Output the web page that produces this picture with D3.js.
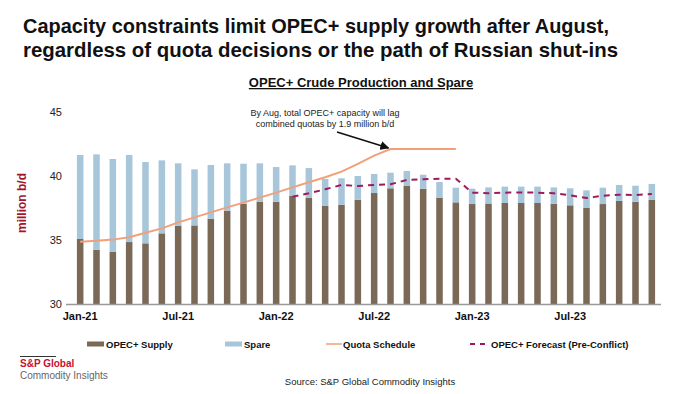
<!DOCTYPE html>
<html>
<head>
<meta charset="utf-8">
<script src="https://cdn.jsdelivr.net/npm/d3@7"></script>
<style>
  body { margin: 0; background: #fff; }
  svg { font-family: "Liberation Sans", Arial, sans-serif; }
</style>
</head>
<body>
<div id="chart"></div>
<script>
// monthly categories, Jan-21 .. Dec-23
let months = ["Jan-21","Feb-21","Mar-21","Apr-21","May-21","Jun-21","Jul-21","Aug-21","Sep-21","Oct-21","Nov-21","Dec-21",
              "Jan-22","Feb-22","Mar-22","Apr-22","May-22","Jun-22","Jul-22","Aug-22","Sep-22","Oct-22","Nov-22","Dec-22",
              "Jan-23","Feb-23","Mar-23","Apr-23","May-23","Jun-23","Jul-23","Aug-23","Sep-23","Oct-23","Nov-23","Dec-23"];

let supply = [35.08,34.24,34.09,34.84,34.74,35.52,36.12,36.14,36.67,37.29,37.84,37.97,
              37.98,38.44,38.28,37.66,37.76,38.15,38.67,39.04,39.22,39.01,38.31,37.94,
              37.81,37.85,37.89,37.89,37.89,37.84,37.71,37.53,37.81,38.05,37.99,38.13];

let spare = [6.56,7.45,7.24,6.80,6.35,5.70,4.87,4.38,4.19,3.70,3.12,3.02,
             2.72,2.39,2.34,2.11,2.06,1.85,1.49,1.22,1.17,1.09,1.22,1.15,
             1.20,1.26,1.28,1.28,1.28,1.27,1.33,1.35,1.28,1.25,1.25,1.25];

// quota schedule, Jan-21 .. Dec-22
let quotaMonths = months.slice(0, 24);
let quota = [34.87,34.95,35.03,35.21,35.57,35.91,36.38,36.77,37.16,37.55,37.92,38.31,
             38.70,39.11,39.51,39.90,40.34,40.94,41.59,42.11,42.11,42.11,42.11,42.11];

// pre-conflict forecast, Feb-22 .. Dec-23
let forecastMonths = months.slice(13);
let forecast = [38.39,38.65,38.96,39.30,39.22,39.30,39.35,39.69,39.74,39.79,39.79,
                38.70,38.66,38.70,38.72,38.70,38.65,38.49,38.28,38.46,38.54,38.52,38.59];

let tickMonths = ["Jan-21","Jul-21","Jan-22","Jul-22","Jan-23","Jul-23"];
let yTicks = [30, 35, 40, 45];

let colors = { supply: "#7b6957", spare: "#a7c6da", quota: "#f2a07a", forecast: "#9e1a5c" };

let svg = d3.select("#chart").append("svg")
    .attr("width", 700).attr("height", 394);

// titles
svg.append("text").attr("x", 23).attr("y", 33)
    .attr("font-size", 21).attr("font-weight", "bold").attr("fill", "#111")
    .attr("textLength", 586).attr("lengthAdjust", "spacingAndGlyphs")
    .text("Capacity constraints limit OPEC+ supply growth after August,");
svg.append("text").attr("x", 23).attr("y", 57)
    .attr("font-size", 21).attr("font-weight", "bold").attr("fill", "#111")
    .attr("textLength", 595).attr("lengthAdjust", "spacingAndGlyphs")
    .text("regardless of quota decisions or the path of Russian shut-ins");

svg.append("text").attr("x", 361).attr("y", 87)
    .attr("text-anchor", "middle").attr("font-size", 13).attr("font-weight", "bold")
    .attr("text-decoration", "underline").attr("fill", "#111")
    .text("OPEC+ Crude Production and Spare");

// scales
let x = d3.scaleBand().domain(months).range([72, 660]).paddingInner(0.6).paddingOuter(0.3);
let y = d3.scaleLinear().domain([30, 45]).range([304, 112]);
let xc = d => x(d) + x.bandwidth() / 2;

// y axis (labels only)
let yAxis = svg.append("g").attr("transform", "translate(64,0)")
    .call(d3.axisLeft(y).tickValues(yTicks).tickSize(0).tickPadding(2));
yAxis.select(".domain").remove();
yAxis.selectAll("text").attr("font-size", 11).attr("fill", "#222")
    .style("font-family", "'Liberation Sans', Arial, sans-serif");

svg.append("text")
    .attr("transform", "translate(26,203) rotate(-90)")
    .attr("text-anchor", "middle").attr("font-size", 12).attr("font-weight", "bold")
    .attr("fill", "#a3172e").text("million b/d");

// bars
svg.append("g").selectAll("rect.supply")
    .data(months).enter().append("rect")
    .attr("class", "supply")
    .attr("x", d => x(d)).attr("width", x.bandwidth())
    .attr("y", (d, i) => y(supply[i]))
    .attr("height", (d, i) => y(30) - y(supply[i]))
    .attr("fill", colors.supply);

svg.append("g").selectAll("rect.spare")
    .data(months).enter().append("rect")
    .attr("class", "spare")
    .attr("x", d => x(d)).attr("width", x.bandwidth())
    .attr("y", (d, i) => y(supply[i] + spare[i]))
    .attr("height", (d, i) => y(supply[i]) - y(supply[i] + spare[i]))
    .attr("fill", colors.spare);

// x axis
let xAxis = svg.append("g").attr("transform", "translate(0,304)")
    .call(d3.axisBottom(x).tickValues(tickMonths).tickSize(0).tickPadding(8));
xAxis.select(".domain").remove();
xAxis.selectAll("text").attr("font-size", 11).attr("font-weight", "bold").attr("fill", "#111")
    .style("font-family", "'Liberation Sans', Arial, sans-serif");
svg.append("line").attr("x1", 66).attr("x2", 661).attr("y1", 304.5).attr("y2", 304.5)
    .attr("stroke", "#999").attr("stroke-width", 1.5);

// lines
let quotaLine = d3.line().x(d => xc(d)).y((d, i) => y(quota[i]));
svg.append("path").datum(quotaMonths)
    .attr("d", quotaLine).attr("fill", "none")
    .attr("stroke", colors.quota).attr("stroke-width", 2);

let forecastLine = d3.line().x(d => xc(d)).y((d, i) => y(forecast[i]));
svg.append("path").datum(forecastMonths)
    .attr("d", forecastLine).attr("fill", "none")
    .attr("stroke", colors.forecast).attr("stroke-width", 2)
    .attr("stroke-dasharray", "6,5");

// annotation
svg.append("text").attr("x", 325).attr("y", 116)
    .attr("text-anchor", "middle").attr("font-size", 9).attr("fill", "#222")
    .text("By Aug, total OPEC+ capacity will lag");
svg.append("text").attr("x", 325).attr("y", 127)
    .attr("text-anchor", "middle").attr("font-size", 9).attr("fill", "#222")
    .text("combined quotas by 1.9 million b/d");

svg.append("defs").append("marker")
    .attr("id", "arrow").attr("viewBox", "0 0 10 10")
    .attr("refX", 9).attr("refY", 5)
    .attr("markerWidth", 6).attr("markerHeight", 6).attr("orient", "auto")
    .append("path").attr("d", "M0,0 L10,5 L0,10 z").attr("fill", "#111");
svg.append("line")
    .attr("x1", 337).attr("y1", 132).attr("x2", xc("Aug-22") - 2).attr("y2", y(quota[19]) - 1)
    .attr("stroke", "#111").attr("stroke-width", 1.5).attr("marker-end", "url(#arrow)");

// legend
let legend = svg.append("g").attr("font-size", 9.5).attr("font-weight", "bold").attr("fill", "#111");
legend.append("rect").attr("x", 87).attr("y", 341.5).attr("width", 17).attr("height", 5).attr("fill", colors.supply);
legend.append("text").attr("x", 106).attr("y", 347.5).text("OPEC+ Supply");
legend.append("rect").attr("x", 225).attr("y", 341.5).attr("width", 17).attr("height", 5).attr("fill", colors.spare);
legend.append("text").attr("x", 244).attr("y", 347.5).text("Spare");
legend.append("line").attr("x1", 326).attr("x2", 342).attr("y1", 344).attr("y2", 344)
    .attr("stroke", colors.quota).attr("stroke-width", 1.5);
legend.append("text").attr("x", 343).attr("y", 347.5).text("Quota Schedule");
legend.append("line").attr("x1", 470).attr("x2", 489).attr("y1", 344).attr("y2", 344)
    .attr("stroke", colors.forecast).attr("stroke-width", 2).attr("stroke-dasharray", "5,5");
legend.append("text").attr("x", 491).attr("y", 347.5).text("OPEC+ Forecast (Pre-Conflict)");

// footer logo + source
svg.append("line").attr("x1", 20).attr("x2", 56).attr("y1", 356.5).attr("y2", 356.5)
    .attr("stroke", "#333").attr("stroke-width", 1);
svg.append("text").attr("x", 20).attr("y", 367).attr("font-size", 10).attr("font-weight", "bold")
    .attr("fill", "#c8102e").text("S&P Global");
svg.append("text").attr("x", 20).attr("y", 379).attr("font-size", 10)
    .attr("fill", "#666").text("Commodity Insights");
svg.append("text").attr("x", 370).attr("y", 385).attr("text-anchor", "middle")
    .attr("font-size", 9.5).attr("fill", "#222").text("Source: S&P Global Commodity Insights");
</script>
</body>
</html>
